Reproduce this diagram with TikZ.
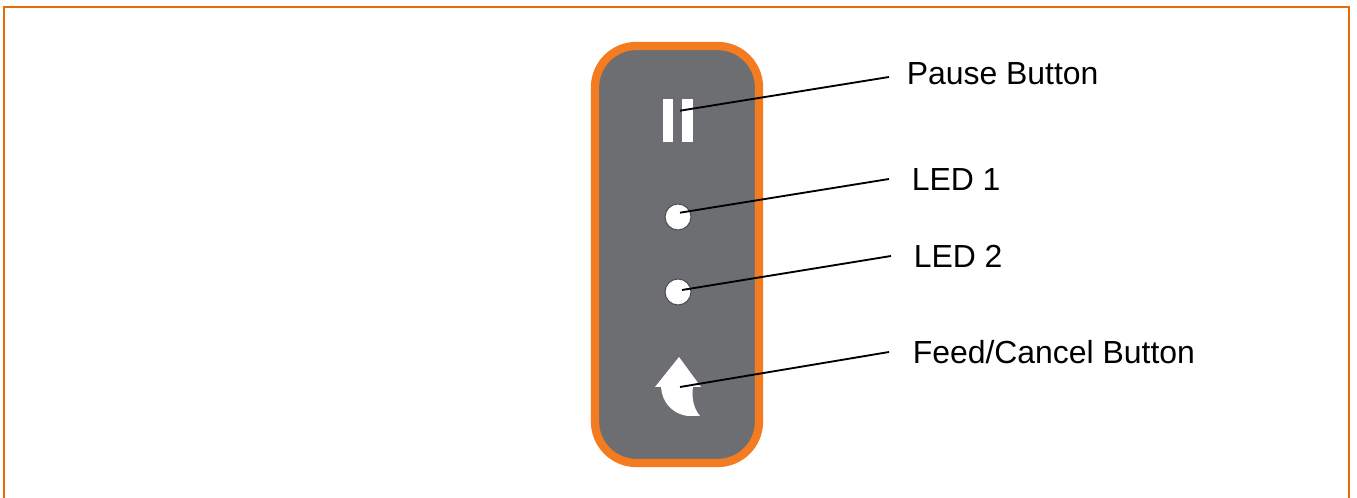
\documentclass[tikz,border=0pt]{standalone}
\usepackage{fontspec}
\setmainfont{Liberation Sans}
\definecolor{frameorange}{HTML}{E46C0A}
\definecolor{panelorange}{HTML}{F47B20}
\definecolor{panelgrey}{HTML}{6D6E71}
\tikzset{
  x=0.75pt,y=-0.75pt,
  label text/.style={anchor=base west,inner sep=0pt,font=\fontsize{23.95pt}{28pt}\selectfont,text=black},
  leader/.style={draw=black,line width=1.4pt},
  led/.style={circle,fill=white,draw=panelgrey!70!black,line width=0.8pt,minimum size=19.5pt,inner sep=0pt},
  bar/.style={fill=white,draw=none,inner sep=0pt,minimum width=7.9pt,minimum height=32.2pt}
}
\begin{document}
\begin{tikzpicture}
\useasboundingbox (0,0) rectangle (1357,498);
\fill[white] (0,0) rectangle (1357,498);
% outer frame, open at the bottom
\draw[frameorange,line width=1.9pt] (4,498) -- (4,7) -- (1349,7) -- (1349,498);
% panel
\draw[panelorange,fill=panelgrey,line width=6.2pt,rounded corners=31pt] (595,46) rectangle (759,463);
% pause
\node[bar] (pauseL) at (668,120.5) {};
\node[bar] (pauseR) at (687.5,120.5) {};
% LEDs
\node[led] (led1) at (678,217) {};
\node[led] (led2) at (678,292) {};
% feed arrow
\fill[white] (679,357) -- (701,387) -- (693,387)
  .. controls (691.5,396) and (693,408) .. (700,416)
  -- (688,416)
  .. controls (672,414) and (662,402) .. (661,387)
  -- (655,387) -- cycle;
\coordinate (feed) at (680,387);
\coordinate (pausePt) at (680,110.7);
\coordinate (led1Pt) at (680,212.7);
\coordinate (led2Pt) at (682,290);
% labels
\node[label text] (tPause) at (906.5,85) {Pause Button};
\node[label text] (tLed1) at (911.5,191) {LED 1};
\node[label text] (tLed2) at (913.5,268) {LED 2};
\node[label text] (tFeed) at (912.5,364) {Feed/Cancel Button};
\coordinate (ePause) at (889,77);
\coordinate (eLed1) at (889,179);
\coordinate (eLed2) at (891,256);
\coordinate (eFeed) at (889,352);
\draw[leader] (pausePt) -- (ePause);
\draw[leader] (led1Pt) -- (eLed1);
\draw[leader] (led2Pt) -- (eLed2);
\draw[leader] (feed) -- (eFeed);
\end{tikzpicture}
\end{document}
